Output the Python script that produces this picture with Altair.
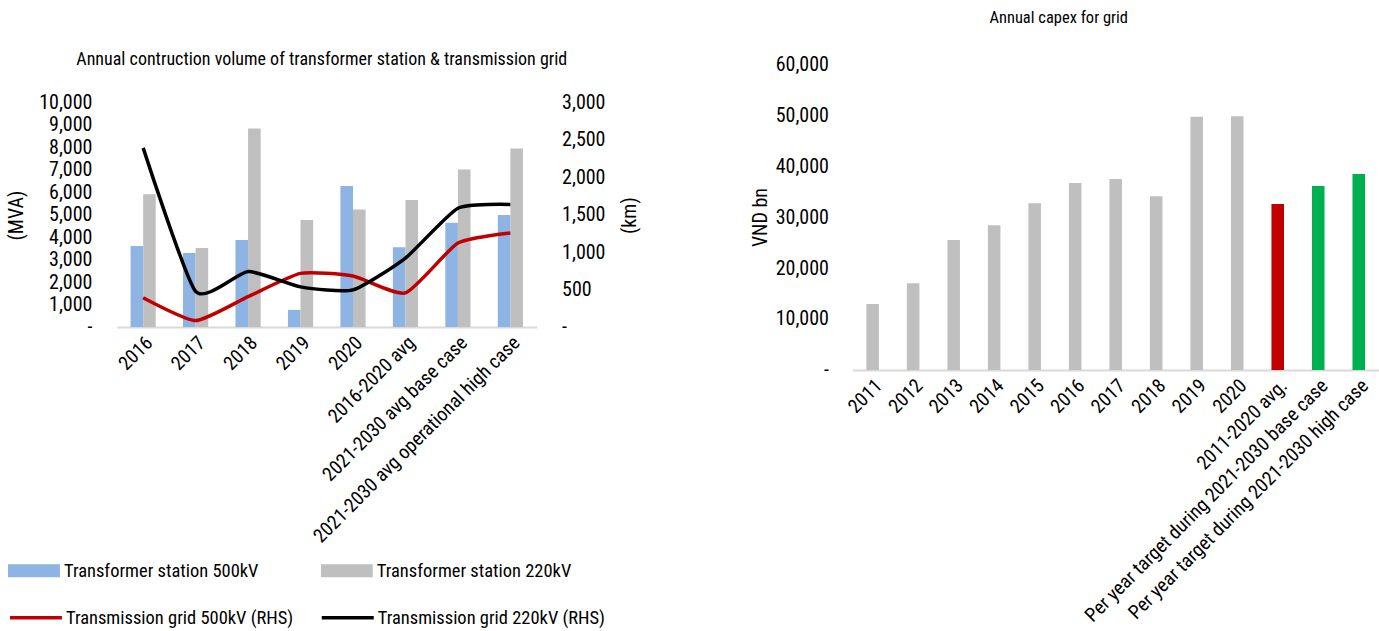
import altair as alt
import pandas as pd

FONT = "Roboto Condensed, DejaVu Sans Condensed, Liberation Sans, sans-serif"

# ---------------- Left chart data ----------------
cats_left = ["2016", "2017", "2018", "2019", "2020", "2016-2020 avg",
             "2021-2030 avg base case", "2021-2030 avg operational high case"]
ts500 = [3600, 3290, 3870, 760, 6270, 3550, 4640, 4980]      # MVA
ts220 = [5900, 3510, 8830, 4760, 5230, 5650, 7010, 7940]     # MVA
tg500 = [390, 85, 405, 715, 680, 455, 1120, 1255]            # km (RHS)
tg220 = [2390, 475, 740, 535, 495, 920, 1585, 1635]          # km (RHS)

bar_series = ["Transformer station 500kV", "Transformer station 220kV"]
line_series = ["Transmission grid 500kV (RHS)", "Transmission grid 220kV (RHS)"]
left_title = ["Annual contruction volume of transformer station & transmission grid"]

# ---------------- Right chart data ----------------
capex_cats = ["2011", "2012", "2013", "2014", "2015", "2016", "2017", "2018",
              "2019", "2020", "2011-2020 avg.",
              "Per year target during 2021-2030 base case",
              "Per year target during 2021-2030 high case"]
capex = [12950, 17000, 25500, 28400, 32700, 36700, 37450, 34100,
         49700, 49800, 32550, 36100, 38450]
capex_kind = ["hist"] * 10 + ["avg", "target", "target"]

df_bars = pd.DataFrame({
    "cat": cats_left * 2,
    "series": [bar_series[0]] * 8 + [bar_series[1]] * 8,
    "value": ts500 + ts220,
})
df_lines = pd.DataFrame({
    "cat": cats_left * 2,
    "series": [line_series[0]] * 8 + [line_series[1]] * 8,
    "value": tg500 + tg220,
})
df_capex = pd.DataFrame({"cat": capex_cats, "value": capex, "kind": capex_kind})

LBL = 20      # y tick labels / axis titles
XLBL = 19.5   # category labels
LEG = 18.5    # legend labels
zero_dash = "datum.value == 0 ? '-' : format(datum.value, ',')"

# left view is taller than its value range: its top lines up with the right view,
# while 10,000 / 3,000 sit 38 px lower, as in the reference
LH = 263
L_EXT = 263 / 225

x_axis_left = alt.Axis(labelAngle=-45, labelFont=FONT, labelFontSize=XLBL, labelColor="#000",
                       labelLimit=500, domainColor="#D9D9D9", domainWidth=2, ticks=False,
                       labelPadding=6, title=None)
x_left = alt.X("cat:N", sort=cats_left, title=None,
               scale=alt.Scale(paddingInner=0.52, paddingOuter=0.26), axis=x_axis_left)

bars = alt.Chart(df_bars).mark_bar().encode(
    x=x_left,
    xOffset=alt.XOffset("series:N", sort=bar_series,
                        scale=alt.Scale(paddingInner=0, paddingOuter=0)),
    y=alt.Y("value:Q", scale=alt.Scale(domain=[0, 10000 * L_EXT], nice=False),
            axis=alt.Axis(values=list(range(0, 10001, 1000)), labelExpr=zero_dash,
                          domain=False, ticks=False, grid=False, labelPadding=25,
                          labelFont=FONT, labelFontSize=LBL, labelColor="#000",
                          title="(MVA)", titleX=-100, titleY=151, titleAngle=-90,
                          titleAlign="center", titleBaseline="middle",
                          titleFont=FONT, titleFontSize=LBL, titleFontWeight="normal",
                          titleColor="#000")),
    color=alt.Color("series:N", sort=bar_series,
                    scale=alt.Scale(domain=bar_series, range=["#8DB4E2", "#BFBFBF"]),
                    legend=alt.Legend(title=None, orient="none", legendX=-109, legendY=496,
                                      direction="horizontal", columns=2,
                                      symbolType="M-1,-0.25L1,-0.25L1,0.25L-1,0.25Z",
                                      symbolSize=2704, symbolStrokeWidth=0,
                                      clipHeight=22, labelOffset=4,
                                      labelFont=FONT, labelFontSize=LEG, labelColor="#000",
                                      columnPadding=62, labelLimit=400)),
)

lines = alt.Chart(df_lines).mark_line(interpolate="cardinal", tension=0.45,
                                      strokeWidth=3.5).encode(
    x=x_left,
    y=alt.Y("value:Q", scale=alt.Scale(domain=[0, 3000 * L_EXT], nice=False),
            axis=alt.Axis(orient="right", values=list(range(0, 3001, 500)), labelExpr=zero_dash,
                          domain=False, ticks=False, grid=False, labelPadding=25,
                          labelFont=FONT, labelFontSize=LBL, labelColor="#000",
                          title="(km)", titleX=93, titleY=151, titleAngle=-90,
                          titleAlign="center", titleBaseline="middle",
                          titleFont=FONT, titleFontSize=LBL, titleFontWeight="normal",
                          titleColor="#000")),
    stroke=alt.Stroke("series:N", sort=line_series,
                      scale=alt.Scale(domain=line_series, range=["#C00000", "#000000"]),
                      legend=alt.Legend(title=None, orient="none", legendX=-109, legendY=543,
                                        direction="horizontal", columns=2,
                                        symbolType="stroke", symbolSize=2704,
                                        symbolStrokeWidth=3.5, clipHeight=22, labelOffset=2,
                                        labelFont=FONT, labelFontSize=LEG, labelColor="#000",
                                        columnPadding=26, labelLimit=400)),
)

title_left = alt.Chart(alt.Data(values=[{"t": left_title[0]}])).mark_text(
    font=FONT, fontSize=18, color="#000", align="center", baseline="middle"
).encode(text="t:N", x=alt.value(205), y=alt.value(-4))

left = alt.layer(bars, lines, title_left).resolve_scale(
    y="independent", color="independent", stroke="independent"
).properties(width=420, height=LH)

right = alt.Chart(df_capex).mark_bar().encode(
    x=alt.X("cat:N", sort=capex_cats, title=None,
            scale=alt.Scale(paddingInner=0.69, paddingOuter=0.345),
            axis=alt.Axis(labelAngle=-45, labelFont=FONT, labelFontSize=XLBL, labelColor="#000",
                          labelLimit=500, domainColor="#D9D9D9", domainWidth=2, ticks=False,
                          labelPadding=6, title=None)),
    y=alt.Y("value:Q", scale=alt.Scale(domain=[0, 60000]),
            axis=alt.Axis(values=list(range(0, 60001, 10000)), labelExpr=zero_dash,
                          domain=False, ticks=False, grid=False, labelPadding=24,
                          labelFont=FONT, labelFontSize=LBL, labelColor="#000",
                          title="VND bn", titleX=-92, titleY=153, titleAngle=-90,
                          titleAlign="center", titleBaseline="middle",
                          titleFont=FONT, titleFontSize=LBL, titleFontWeight="normal",
                          titleColor="#000")),
    color=alt.Color("kind:N", scale=alt.Scale(domain=["hist", "avg", "target"],
                                              range=["#BFBFBF", "#C00000", "#00B050"]),
                    legend=None),
).properties(
    width=527, height=306,
    title=alt.TitleParams("Annual capex for grid", font=FONT, fontSize=16.5,
                          fontWeight="normal", color="#000", anchor="middle",
                          offset=28, dx=-57),
)

chart = alt.hconcat(left, right, spacing=111).properties(
    padding={"left": 7, "right": 0, "top": 9, "bottom": 0},
    background="white",
).configure_view(stroke=None)

chart.save("out.html", embed_options={"renderer": "svg", "actions": False})
